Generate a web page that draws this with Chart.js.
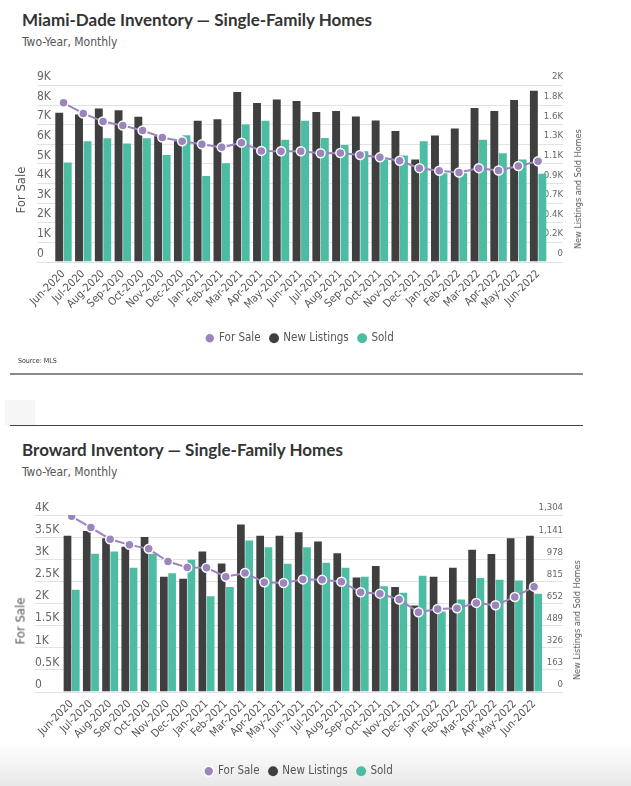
<!DOCTYPE html>
<html>
<head>
<meta charset="utf-8">
<title>Inventory — Single-Family Homes</title>
<script src="https://cdn.jsdelivr.net/npm/chart.js@4.4.1/dist/chart.umd.min.js"></script>
<style>
    body { margin: 0; background: #fff; }
    #page { position: relative; width: 631px; height: 786px; overflow: hidden; font-family: "Liberation Sans Narrow", "DejaVu Sans Condensed", sans-serif; }
    .panel { position: absolute; left: 0; width: 631px; height: 360px; }
    .title { position: absolute; left: 22px; top: 9px; font: bold 17px Lato, "Open Sans", sans-serif; color: #333; white-space: nowrap; }
    .subtitle { position: absolute; left: 22px; top: 35px; font-size: 12px; color: #555; white-space: nowrap; }
    .panel canvas { position: absolute; left: 0; top: 60px; }
    .axis-title { position: absolute; white-space: nowrap; color: #555; transform: translate(-50%, -50%) rotate(-90deg); }
    .source { position: absolute; left: 18px; top: 357px; font-size: 7px; color: #333; }
    .rule { position: absolute; left: 10px; width: 573px; }
    .fade { position: absolute; left: 0; top: 742px; width: 631px; height: 44px; background: linear-gradient(#fff, #e8e8e8); }
</style>
</head>
<body>
<div id="page">
    <div class="fade"></div>

    <div class="panel" style="top:0">
        <div class="title">Miami-Dade Inventory — Single-Family Homes</div>
        <div class="subtitle">Two-Year, Monthly</div>
        <canvas id="miami_chart" width="631" height="294"></canvas>
        <div class="axis-title" style="left:20px;top:190px;font-size:13px">For Sale</div>
        <div class="axis-title" style="left:578px;top:189px;font-size:9px">New Listings and Sold Homes</div>
    </div>
    <div class="source">Source: MLS</div>
    <div class="rule" style="top:373px;border-top:2px solid #8a8a8a"></div>
    <div style="position:absolute;left:5px;top:400px;width:30px;height:25px;background:#f6f6f6"></div>
    <div class="rule" style="top:425px;border-top:1px solid #444"></div>

    <div class="panel" style="top:430px">
        <div class="title">Broward Inventory — Single-Family Homes</div>
        <div class="subtitle">Two-Year, Monthly</div>
        <canvas id="broward_chart" width="631" height="297"></canvas>
        <div class="axis-title" style="left:20px;top:191px;font-size:13px">For Sale</div>
        <div class="axis-title" style="left:577px;top:190px;font-size:9px">New Listings and Sold Homes</div>
    </div>
</div>

<script>
var months = ['Jun-2020', 'Jul-2020', 'Aug-2020', 'Sep-2020', 'Oct-2020', 'Nov-2020', 'Dec-2020',
    'Jan-2021', 'Feb-2021', 'Mar-2021', 'Apr-2021', 'May-2021', 'Jun-2021', 'Jul-2021', 'Aug-2021',
    'Sep-2021', 'Oct-2021', 'Nov-2021', 'Dec-2021', 'Jan-2022', 'Feb-2022', 'Mar-2022', 'Apr-2022',
    'May-2022', 'Jun-2022'];

//Miami-Dade
var miamiForSale = [8090, 7550, 7140, 6930, 6680, 6320, 6130, 5980, 5820, 6060, 5640, 5620, 5620,
    5520, 5530, 5430, 5310, 5140, 4760, 4630, 4540, 4760, 4640, 4870, 5110];
var miamiNewListings = [1685, 1666, 1734, 1715, 1640, 1419, 1362, 1594, 1613, 1920, 1795, 1837, 1818,
    1693, 1704, 1643, 1598, 1480, 1157, 1427, 1507, 1738, 1704, 1829, 1935];
var miamiSold = [1123, 1362, 1397, 1336, 1397, 1207, 1431, 968, 1112, 1552, 1594, 1381, 1594,
    1400, 1320, 1249, 1157, 1200, 1364, 1000, 1000, 1381, 1226, 1157, 994];
var miamiLeftTicks = [0, 1000, 2000, 3000, 4000, 5000, 6000, 7000, 8000, 9000];
var miamiRightMax = 2000;

//Broward
var browardForSale = [3970, 3714, 3451, 3323, 3233, 2947, 2812, 2805, 2602, 2684, 2474, 2459, 2541,
    2530, 2489, 2248, 2218, 2083, 1797, 1872, 1887, 2008, 1955, 2143, 2376];
var browardNewListings = [1150, 1186, 1132, 1069, 1142, 848, 833, 1034, 946, 1233, 1150, 1150, 1177,
    1109, 1022, 843, 927, 772, 635, 848, 914, 1047, 1015, 1132, 1150];
var browardSold = [752, 1017, 1034, 914, 1017, 873, 973, 703, 772, 1115, 1066, 944, 1066,
    951, 914, 848, 777, 730, 855, 591, 679, 838, 826, 821, 723];
var browardLeftTicks = [0, 500, 1000, 1500, 2000, 2500, 3000, 3500, 4000];
var browardRightMax = 1304;

var purple = '#9c85bd', dark = '#3f3f3f', teal = '#4cbca3';
var narrow = '"Liberation Sans Narrow", "DejaVu Sans Condensed", sans-serif';

// horizontal rules run from the left labels to the right labels, under everything
var gridLines = {
    id: 'gridLines',
    beforeDraw: function (chart) {
        var ctx = chart.ctx, y = chart.scales.y, y1 = chart.scales.y1;
        ctx.save();
        ctx.strokeStyle = '#e2e2e2';
        ctx.lineWidth = 1;
        y.ticks.forEach(function (t, i) {
            var py = Math.round(y.getPixelForTick(i)) + 0.5;
            ctx.beginPath();
            ctx.moveTo(y.left, py);
            ctx.lineTo(y1.right, py);
            ctx.stroke();
        });
        ctx.restore();
    }
};

function kLabel(v) {
    return v === 0 ? '0' : (Math.round(v / 100) / 10) + 'K';
}

function buildChart(id, forSale, newListings, sold, leftTicks, rightMax, opts) {
    var steps = leftTicks.length - 1;
    return new Chart(document.getElementById(id).getContext('2d'), {
        type: 'bar',
        data: {
            labels: months,
            datasets: [{
                type: 'line',
                label: 'For Sale',
                data: forSale,
                yAxisID: 'y',
                order: 0,
                borderColor: purple,
                backgroundColor: purple,
                borderWidth: 2,
                pointRadius: 4.5,
                pointBackgroundColor: purple,
                pointBorderColor: '#fff',
                pointBorderWidth: 1.5,
                tension: 0
            }, {
                label: 'New Listings',
                data: newListings,
                yAxisID: 'y1',
                order: 1,
                backgroundColor: dark,
                borderColor: dark,
                borderWidth: 0
            }, {
                label: 'Sold',
                data: sold,
                yAxisID: 'y1',
                order: 1,
                backgroundColor: teal,
                borderColor: teal,
                borderWidth: 0
            }]
        },
        options: {
            responsive: false,
            animation: false,
            categoryPercentage: 0.86,
            barPercentage: 0.93,
            layout: { padding: { top: 25, left: opts.left, right: 68, bottom: 0 } },
            plugins: {
                tooltip: { enabled: false },
                legend: {
                    position: 'bottom',
                    labels: {
                        usePointStyle: true,
                        pointStyle: 'circle',
                        boxWidth: 7,
                        boxHeight: 7,
                        padding: 10,
                        color: '#555',
                        font: { family: narrow, size: 11.5 }
                    }
                }
            },
            scales: {
                x: {
                    grid: { display: false, drawTicks: false },
                    border: { display: false },
                    ticks: {
                        autoSkip: false,
                        maxRotation: 45,
                        minRotation: 45,
                        padding: 6,
                        color: '#555',
                        font: { family: narrow, size: 11 }
                    },
                    afterFit: function (s) { s.height = opts.xH; }
                },
                y: {
                    position: 'left',
                    min: 0,
                    max: leftTicks[steps],
                    grid: { display: false, drawTicks: false },
                    border: { display: false },
                    afterBuildTicks: function (s) {
                        s.ticks = leftTicks.map(function (v) { return { value: v }; });
                    },
                    afterFit: function (s) { s.width = opts.leftW; },
                    ticks: {
                        mirror: true,
                        crossAlign: 'near',
                        padding: -opts.leftW,
                        labelOffset: opts.labelOffset,
                        color: '#666',
                        font: { family: narrow, size: 12 },
                        callback: function (v) { return kLabel(v); }
                    }
                },
                y1: {
                    position: 'right',
                    min: 0,
                    max: rightMax,
                    grid: { display: false, drawTicks: false },
                    border: { display: false },
                    afterBuildTicks: function (s) {
                        var t = [];
                        for (var i = 0; i <= steps; i++) t.push({ value: rightMax * i / steps });
                        s.ticks = t;
                    },
                    afterFit: function (s) { s.width = opts.rightW; },
                    ticks: {
                        mirror: true,
                        crossAlign: 'near',
                        padding: opts.rightW,
                        labelOffset: opts.labelOffset,
                        color: '#666',
                        font: { family: narrow, size: 9.5 },
                        callback: opts.rightLabel
                    }
                }
            }
        },
        plugins: [gridLines]
    });
}

buildChart('miami_chart', miamiForSale, miamiNewListings, miamiSold, miamiLeftTicks, miamiRightMax, {
    left: 37, leftW: 16.6, rightW: 15, labelOffset: -8, xH: 61,
    rightLabel: function (v) { return kLabel(v); }
});

buildChart('broward_chart', browardForSale, browardNewListings, browardSold, browardLeftTicks, browardRightMax, {
    left: 35, leftW: 27, rightW: 19.3, labelOffset: -7, xH: 64,
    rightLabel: function (v) { return Math.round(v).toLocaleString('en-US'); }
});
</script>
</body>
</html>
